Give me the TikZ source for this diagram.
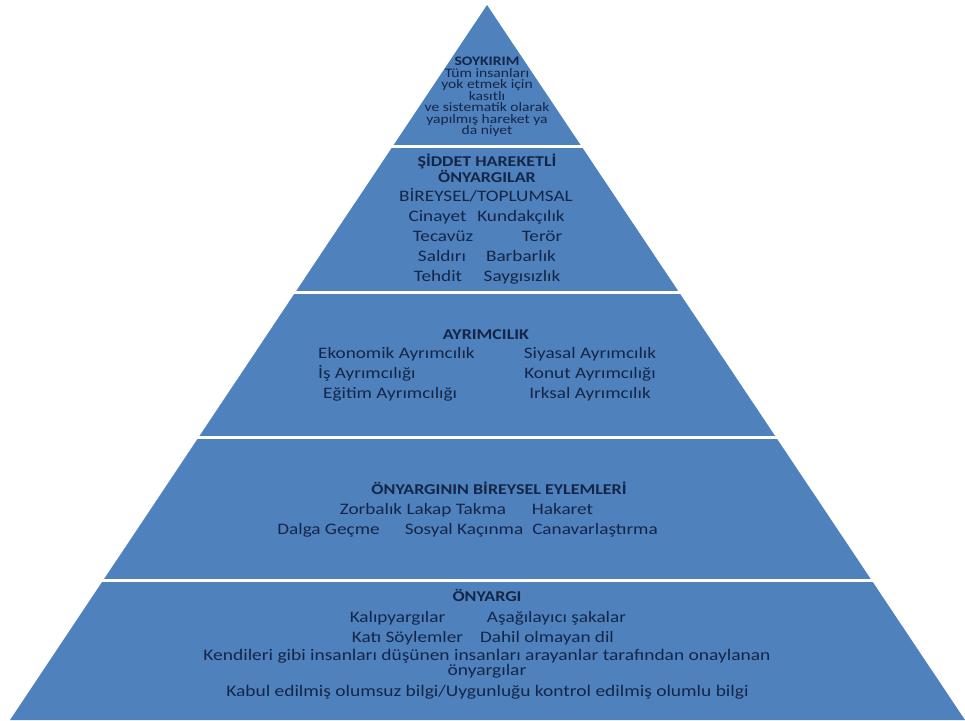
\documentclass[tikz,border=0pt]{standalone}
\usepackage{fontspec}
\setmainfont[FakeStretch=1.2]{Carlito}
\definecolor{pyrblue}{RGB}{79,129,189}
\definecolor{inkblue}{RGB}{20,38,72}
\begin{document}
\begin{tikzpicture}[x=1pt, y=-1pt,
    head/.style={font=\fontsize{15}{13}\selectfont\bfseries, text=inkblue, inner sep=0, align=center},
    entry/.style={font=\fontsize{16}{12}\selectfont, text=inkblue, inner sep=0, align=center, anchor=base}]
\useasboundingbox (0,0) rectangle (965,720);
\fill[pyrblue] (487,5)--(965,720)--(10,720)--cycle;
\foreach \y in {146,292,437,580}
{
    \draw[white, line width=3pt] (0,\y)--(965,\y);
}

\node[entry, anchor=center, font=\fontsize{13}{11.5}\selectfont] (soykirim) at (487,97)
    {\textbf{SOYKIRIM}\\Tüm insanları\\yok etmek için\\kasıtlı\\ve sistematik olarak\\yapılmış hareket ya\\da niyet};

\node[head] (siddet) at (487,168.5){ŞİDDET HAREKETLİ\\ÖNYARGILAR};
\node[entry] (siddet0) at (486,201){BİREYSEL/TOPLUMSAL};
\foreach \x/\y/\t [count=\i] in {437.5/221/Cinayet, 521/221/Kundakçılık, 443/241/Tecavüz, 542/241/Terör,
    442/261/Saldırı, 521/261/Barbarlık, 438/281/Tehdit, 522/281/Saygısızlık}
{
    \node[entry] (siddet\i) at (\x,\y){\t};
}

\node[head] (ayrim) at (486,335){AYRIMCILIK};
\foreach \x/\y/\t [count=\i] in {318/358/Ekonomik Ayrımcılık, 318/378/İş Ayrımcılığı, 323/398/Eğitim Ayrımcılığı}
{
    \node[entry, anchor=base west] (ayrimsol\i) at (\x,\y){\t};
}
\foreach \y/\t [count=\i] in {358/Siyasal Ayrımcılık, 378/Konut Ayrımcılığı, 398/Irksal Ayrımcılık}
{
    \node[entry] (ayrimsag\i) at (590,\y){\t};
}

\node[head] (eylem) at (499,488){ÖNYARGININ BİREYSEL EYLEMLERİ};
\foreach \x/\y/\t [count=\i] in {423/514/Zorbalık Lakap Takma, 562.5/514/Hakaret,
    328.5/534/Dalga Geçme, 464/534/Sosyal Kaçınma, 595/534/Canavarlaştırma}
{
    \node[entry] (eylem\i) at (\x,\y){\t};
}

\node[head] (onyargi) at (487,595){ÖNYARGI};
\foreach \x/\y/\t [count=\i] in {397.5/622/Kalıpyargılar, 556.5/622/Aşağılayıcı şakalar,
    407.5/642/Katı Söylemler, 547/642/Dahil olmayan dil}
{
    \node[entry] (onyargi\i) at (\x,\y){\t};
}
\node[entry, anchor=center, font=\fontsize{16.2}{13}\selectfont] (onyargi5) at (487,664)
    {Kendileri gibi insanları düşünen insanları arayanlar tarafından onaylanan\\önyargılar};
\node[entry, font=\fontsize{16.2}{12.5}\selectfont] (onyargi6) at (487.5,696){Kabul edilmiş olumsuz bilgi/Uygunluğu kontrol edilmiş olumlu bilgi};
\end{tikzpicture}
\end{document}
